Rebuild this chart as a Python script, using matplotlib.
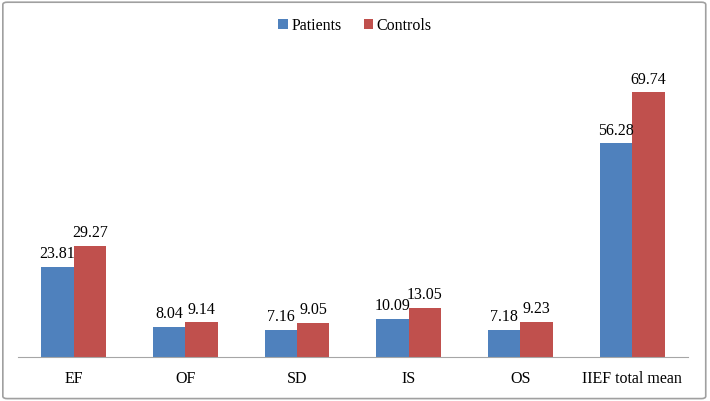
import numpy as np
import matplotlib.pyplot as plt
from matplotlib.patches import FancyBboxPatch

categories = ["EF", "OF", "SD", "IS", "OS", "IIEF total mean"]
patients = [23.81, 8.04, 7.16, 10.09, 7.18, 56.28]
controls = [29.27, 9.14, 9.05, 13.05, 9.23, 69.74]

plt.rcParams["font.family"] = ["Liberation Serif", "DejaVu Serif"]

fig = plt.figure(figsize=(7.1, 4.02), dpi=100)
ax = fig.add_axes([0.025, 0.109, 0.944, 0.756])

x = np.arange(len(categories))
w = 0.29
b1 = ax.bar(x - w / 2, patients, w, color="#4F81BD", label="Patients")
b2 = ax.bar(x + w / 2, controls, w, color="#C0504D", label="Controls")

for bars, vals in [(b1, patients), (b2, controls)]:
    for bar, v in zip(bars, vals):
        ax.text(bar.get_x() + bar.get_width() / 2, v + 1.5, f"{v:.2f}",
                ha="center", va="bottom", fontsize=11.5)

ax.set_xlim(-0.5, len(categories) - 0.5)
ax.set_ylim(0, 80)
ax.set_xticks(x)
ax.set_xticklabels(categories, fontsize=11.5)
ax.tick_params(axis="x", length=0, pad=9)
ax.set_yticks([])
for s in ["top", "right", "left"]:
    ax.spines[s].set_visible(False)
ax.spines["bottom"].set_color("#A6A6A6")

fig.legend(loc="upper center", bbox_to_anchor=(0.5, 0.99), ncol=2, frameon=False,
           fontsize=11.5, handlelength=0.6, handleheight=0.6, handletextpad=0.2,
           columnspacing=1.4)

border = FancyBboxPatch((0.004, 0.006), 0.99, 0.986, boxstyle="round,pad=0,rounding_size=0.006",
                        transform=fig.transFigure, fill=False, edgecolor="#A0A0A0", linewidth=1.2)
fig.patches.append(border)

fig.savefig("out.png", dpi=100)
